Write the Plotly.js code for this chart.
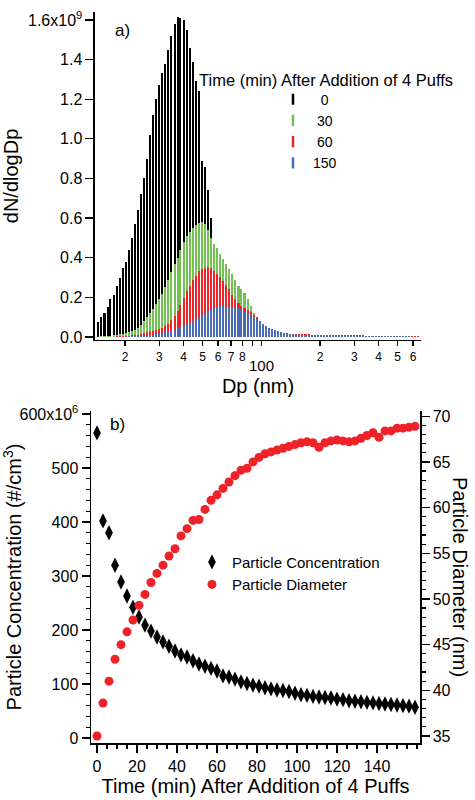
<!DOCTYPE html>
<html>
<head>
<meta charset="utf-8">
<script src="https://cdn.plot.ly/plotly-3.0.1.min.js"></script>
<style>html,body{margin:0;padding:0;background:#fff;}#chart{width:475px;height:800px;}</style>
</head>
<body>
<div id="chart"></div>
<script>
// ---- Panel a) size distributions (dN/dlogDp, units of 1e9) ----
var dp = [14.6,15.1,15.7,16.3,16.8,17.5,18.1,18.8,19.5,20.2,
 20.9,21.7,22.5,23.3,24.1,25.0,25.9,26.9,27.9,28.9,
 30.0,31.1,32.2,33.4,34.6,35.9,37.2,38.5,40.0,41.4,
 42.9,44.5,46.1,47.8,49.6,51.4,53.3,55.2,57.3,59.4,
 61.5,63.8,66.1,68.5,71.0,73.7,76.4,79.1,82.0,85.1,
 88.2,91.4,94.7,98.2,101.8,105.5,109.4,113.4,117.6,121.9,
 126.3,131.0,135.8,140.7,145.9,151.2,156.8,162.5,168.5,174.7,
 181.1,187.7,194.6,201.7,209.1,216.7,224.7,232.9,241.4,250.3,
 259.5,269.0,278.8,289.0,299.6,310.6,322.0,333.8,346.0,358.7,
 371.8,385.4,399.5,414.2,429.4,445.1,461.4,478.3,495.8,514.0,
 532.8,552.3,572.5,593.5,615.3,637.8];

var t0 = [0.077,0.10,0.12,0.15,0.19,0.21,0.26,0.30,0.35,0.38,
 0.44,0.50,0.57,0.64,0.72,0.80,0.90,1.02,1.12,1.20,
 1.27,1.33,1.38,1.45,1.52,1.58,1.615,1.61,1.60,1.55,
 1.46,1.39,1.29,1.24,0.89,0.86,0.74,0.60,0.46,0.40,
 0.34,0.29,0.24,0.20,0.16,0.13,0.10,0.08,0.065,0.05,
 0.04,0.032,0.025,0.02,0.016,0.013,0.011,0.01,0.009,0.008,
 0.008,0.007,0.007,0.007,0.006,0.006,0.006,0.006,0.005,0.005,
 0.005,0.005,0.005,0.004,0.004,0.004,0.004,0.004,0.004,0.003,
 0.003,0.003,0.003,0.003,0.003,0.003,0.003,0.003,0.003,0.003,
 0.003,0.003,0.003,0.002,0.002,0.002,0.002,0.002,0.002,0.002,
 0.002,0.002,0.002,0.002,0.002,0.002];

var t30 = [0.002,0.003,0.004,0.005,0.007,0.009,0.011,0.013,0.016,0.019,
 0.024,0.03,0.038,0.048,0.06,0.08,0.10,0.12,0.14,0.165,
 0.19,0.215,0.25,0.29,0.33,0.37,0.40,0.44,0.48,0.51,
 0.53,0.55,0.565,0.575,0.58,0.57,0.54,0.50,0.47,0.45,
 0.42,0.395,0.37,0.345,0.32,0.29,0.26,0.24,0.22,0.19,
 0.155,0.12,0.09,0.07,0.05,0.04,0.03,0.025,0.02,0.016,
 0.013,0.011,0.01,0.009,0.009,0.008,0.008,0.008,0.007,0.007,
 0.007,0.007,0.006,0.006,0.006,0.006,0.006,0.005,0.005,0.005,
 0.005,0.005,0.005,0.004,0.004,0.004,0.004,0.004,0.004,0.004,
 0.003,0.003,0.003,0.003,0.003,0.003,0.003,0.003,0.003,0.003,
 0.003,0.003,0.002,0.002,0.002,0.002];

var t60 = [0.001,0.001,0.001,0.002,0.002,0.002,0.003,0.003,0.004,0.005,
 0.006,0.008,0.01,0.012,0.015,0.02,0.024,0.028,0.032,0.036,
 0.04,0.046,0.055,0.068,0.085,0.105,0.13,0.16,0.195,0.23,
 0.26,0.29,0.31,0.335,0.345,0.35,0.352,0.35,0.335,0.32,
 0.305,0.285,0.265,0.24,0.21,0.19,0.17,0.158,0.145,0.135,
 0.125,0.11,0.10,0.08,0.066,0.054,0.046,0.04,0.035,0.03,
 0.026,0.022,0.02,0.017,0.016,0.015,0.014,0.014,0.013,0.013,
 0.012,0.012,0.012,0.011,0.011,0.011,0.010,0.010,0.010,0.010,
 0.009,0.009,0.009,0.009,0.008,0.008,0.008,0.008,0.007,0.007,
 0.007,0.007,0.006,0.006,0.006,0.006,0.005,0.005,0.005,0.005,
 0.004,0.004,0.004,0.004,0.003,0.003];

var t150 = [0.001,0.001,0.001,0.001,0.001,0.001,0.002,0.002,0.002,0.002,
 0.003,0.003,0.003,0.004,0.005,0.006,0.008,0.01,0.012,0.014,
 0.017,0.02,0.024,0.028,0.032,0.038,0.045,0.052,0.058,0.065,
 0.072,0.08,0.09,0.10,0.11,0.12,0.13,0.138,0.145,0.15,
 0.155,0.155,0.153,0.152,0.15,0.148,0.145,0.135,0.125,0.115,
 0.108,0.10,0.09,0.08,0.066,0.054,0.045,0.04,0.035,0.03,
 0.025,0.021,0.018,0.015,0.013,0.012,0.011,0.011,0.010,0.010,
 0.010,0.009,0.009,0.009,0.009,0.008,0.008,0.008,0.008,0.007,
 0.007,0.007,0.007,0.006,0.006,0.006,0.006,0.006,0.005,0.005,
 0.005,0.005,0.005,0.004,0.004,0.004,0.004,0.004,0.003,0.003,
 0.003,0.003,0.003,0.002,0.002,0.002];

var seriesNames = ["0", "30", "60", "150"];
var seriesLabels = ["\u00a0\u00a00", "\u00a030", "\u00a060", "150"];
var seriesColors = ["#000000", "#72c152", "#ee2229", "#4a6cb6"];

var dpTickVals = [20,30,40,50,60,70,80,90,100,200,300,400,500,600];
var dpTickText = ["2","3","4","5","6","7","8","","","2","3","4","5","6"];
var nTickVals = [0,0.2,0.4,0.6,0.8,1.0,1.2,1.4,1.6];
var nTickText = ["0.0","0.2","0.4","0.6","0.8","1.0","1.2","1.4","1.6x10<sup>9</sup>"];

// ---- Panel b) time series ----
var timeMin = [0,3,6,9,12,15,18,21,24,27,30,33,36,39,42,45,48,51,54,57,
 60,63,66,69,72,75,78,81,84,87,90,93,96,99,102,105,108,111,114,117,
 120,123,126,129,132,135,138,141,144,147,150,153,156,159];
var concentration = [565,402,380,320,289,263,242,224,209,198,
 187,178,170,161,154,150,143,137,133,129,
 124,115,113,109,104,101,98,96,93,91,
 89,88,86,83,80,79,77,76,75,74,
 72,71,69,68,67,66,65,64,63,62,
 61,60,59,57];
var diameter = [35.0,38.6,41.0,43.4,45.0,46.4,47.7,49.3,50.5,51.8,
 52.8,53.7,54.7,55.5,56.9,57.7,58.6,58.7,59.8,60.8,
 61.4,62.1,62.8,63.5,64.1,64.3,65.0,65.5,65.9,66.1,
 66.3,66.5,66.7,66.9,67.1,67.2,67.1,66.6,67.1,67.3,
 67.4,67.3,67.2,67.3,67.6,67.9,68.2,67.7,68.4,68.4,
 68.7,68.7,68.8,68.9];
var concTickVals = [0,100,200,300,400,500,600];
var concTickText = ["0","100","200","300","400","500","600x10<sup>6</sup>"];
var timeTickVals = [0,20,40,60,80,100,120,140];

var FONT = "Liberation Sans, Arial, Helvetica, sans-serif";
var logDp = dp.map(function(v){return Math.log10(v);});
var allSeries = [t0, t30, t60, t150];

var traces = [];
allSeries.forEach(function(s, k){
  traces.push({
    type: "bar", x: logDp, y: s, width: 0.0105,
    marker: {color: seriesColors[k], line: {width: 0}},
    xaxis: "x", yaxis: "y", showlegend: false, name: seriesNames[k],
    hoverinfo: "skip"
  });
});
allSeries.forEach(function(s, k){
  traces.push({
    type: "scatter", mode: "markers", x: [null], y: [null],
    name: seriesLabels[k], legend: "legend",
    marker: {symbol: "line-ns", size: 8, color: seriesColors[k], line: {width: 2.5, color: seriesColors[k]}},
    xaxis: "x", yaxis: "y"
  });
});
traces.push({
  type: "scatter", mode: "markers", x: timeMin, y: concentration,
  name: "Particle Concentration", legend: "legend2",
  marker: {symbol: "diamond-tall", size: 11, color: "#000000"},
  xaxis: "x2", yaxis: "y2"
});
traces.push({
  type: "scatter", mode: "markers", x: timeMin, y: diameter,
  name: "Particle Diameter", legend: "legend2",
  marker: {symbol: "circle", size: 9, color: "#ee2229"},
  xaxis: "x2", yaxis: "y3"
});

var axisCommon = {showline: true, linecolor: "#000", linewidth: 1.5, ticks: "outside",
  tickcolor: "#000", tickwidth: 1.3, showgrid: false, zeroline: false, mirror: false};

var layout = {
  width: 475, height: 800,
  margin: {l: 91, r: 54, t: 12, b: 57},
  paper_bgcolor: "#fff", plot_bgcolor: "#fff",
  font: {family: FONT, color: "#000", size: 15},
  barmode: "overlay", bargap: 0,
  showlegend: true,
  xaxis: Object.assign({}, axisCommon, {
    domain: [0.0121, 1], anchor: "y", range: [1.1472, 2.819],
    tickmode: "array", tickvals: dpTickVals.map(function(v){return Math.log10(v);}),
    ticktext: dpTickText, ticklen: 5, tickfont: {size: 12},
    title: {text: "Dp (nm)", font: {size: 20}, standoff: 16}
  }),
  yaxis: Object.assign({}, axisCommon, {
    domain: [0.5513, 1], anchor: "x", range: [-0.015, 1.64],
    tickmode: "array", tickvals: nTickVals, ticktext: nTickText,
    ticklen: 8, tickfont: {size: 16},
    title: {text: "dN/dlogDp", font: {size: 20}, standoff: 8}
  }),
  xaxis2: Object.assign({}, axisCommon, {
    domain: [0, 0.997], anchor: "y2", range: [-3, 161.5],
    tickmode: "array", tickvals: timeTickVals, ticklen: 8, tickfont: {size: 16},
    minor: {tickmode: "linear", tick0: 0, dtick: 5, ticklen: 4, ticks: "outside", tickcolor: "#000", tickwidth: 1.2, showgrid: false},
    title: {text: "Time (min) After Addition of 4 Puffs", font: {size: 20}, standoff: 2}
  }),
  yaxis2: Object.assign({}, axisCommon, {
    domain: [0, 0.4542], anchor: "x2", range: [-9.26, 605.6],
    tickmode: "array", tickvals: concTickVals, ticktext: concTickText,
    ticklen: 8, tickfont: {size: 16},
    minor: {tickmode: "linear", tick0: 0, dtick: 20, ticklen: 4, ticks: "outside", tickcolor: "#000", tickwidth: 1.2, showgrid: false},
    title: {text: "Particle Concentration (#/cm<sup>3</sup>)", font: {size: 20}, standoff: 4}
  }),
  yaxis3: Object.assign({}, axisCommon, {
    overlaying: "y2", side: "right", anchor: "x2", range: [34.23, 70.58],
    tickmode: "linear", tick0: 35, dtick: 5, ticklen: 8, tickfont: {size: 16},
    minor: {tickmode: "linear", tick0: 35, dtick: 1, ticklen: 4, ticks: "outside", tickcolor: "#000", tickwidth: 1.2, showgrid: false}
  }),
  legend: {x: 0.5515, y: 0.902, xanchor: "left", yanchor: "top", bgcolor: "rgba(0,0,0,0)",
    font: {size: 14}, tracegroupgap: 0, itemwidth: 30, borderwidth: 0},
  legend2: {x: 0.306, y: 0.27, xanchor: "left", yanchor: "top", bgcolor: "rgba(0,0,0,0)",
    font: {size: 15}, tracegroupgap: 0, itemwidth: 30, borderwidth: 0},
  annotations: [
    {text: "a)", xref: "paper", yref: "paper", x: 0.094, y: 0.975, xanchor: "center", yanchor: "middle", showarrow: false, font: {size: 17}},
    {text: "b)", xref: "paper", yref: "paper", x: 0.079, y: 0.436, xanchor: "center", yanchor: "middle", showarrow: false, font: {size: 17}},
    {text: "100", xref: "x", yref: "paper", x: 2, y: 0.5158, xanchor: "center", yanchor: "middle", showarrow: false, font: {size: 15}},
    {text: "Time (min) After Addition of 4 Puffs", xref: "paper", yref: "paper", x: 0.712, y: 0.907,
      xanchor: "center", yanchor: "middle", showarrow: false, font: {size: 16.5}},
    {text: "Particle Diameter (nm)", xref: "paper", yref: "paper", x: 1.118, y: 0.227,
      xanchor: "center", yanchor: "middle", textangle: 90, showarrow: false, font: {size: 20}}
  ]
};

Plotly.newPlot("chart", traces, layout, {displayModeBar: false, staticPlot: true});
</script>
</body>
</html>
